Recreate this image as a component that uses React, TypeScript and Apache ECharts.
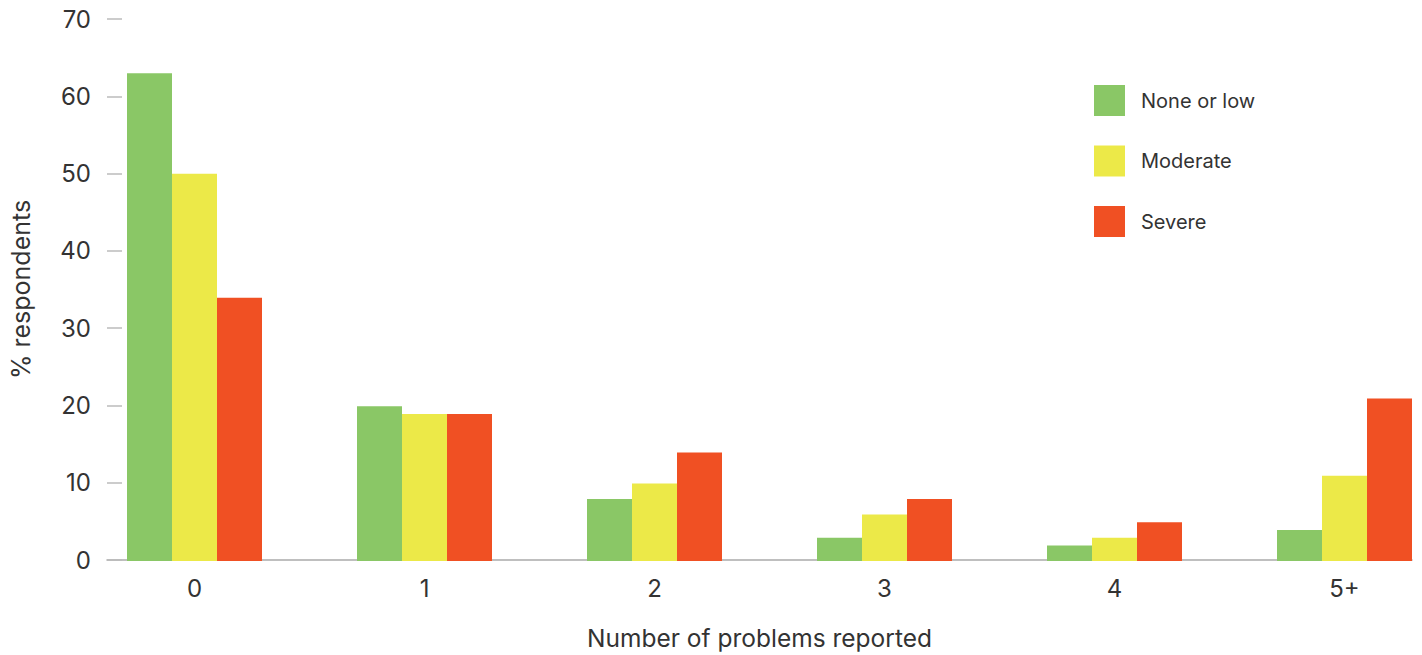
import React, { useEffect, useRef } from "react";
import * as echarts from "echarts";

const categories = ["0", "1", "2", "3", "4", "5+"];
const noneOrLow = [63, 20, 8, 3, 2, 4];
const moderate = [50, 19, 10, 6, 3, 11];
const severe = [34, 19, 14, 8, 5, 21];
const seriesNames = ["None or low", "Moderate", "Severe"];
const colors = ["#8AC766", "#ECE948", "#F05023"];

const FONT = "Inter, 'Liberation Sans', sans-serif";

export default function App() {
  const ref = useRef<HTMLDivElement>(null);
  useEffect(() => {
    if (!ref.current) return;
    const chart = echarts.init(ref.current, null, { renderer: "svg" });
    const dataSets = [noneOrLow, moderate, severe];
    chart.setOption({
      animation: false,
      textStyle: { fontFamily: FONT },
      color: colors,
      legend: {
        orient: "vertical",
        left: 1094,
        top: 85,
        padding: 0,
        itemWidth: 31,
        itemHeight: 31,
        itemGap: 29.5,
        icon: "rect",
        data: seriesNames,
        textStyle: { fontSize: 20, color: "#333", fontFamily: FONT, padding: [0, 0, 0, 11] },
        selectedMode: false,
      },
      grid: [
        { left: 101, right: 10, top: 19, bottom: 94 },
        { left: 194.5, right: 77.5, top: 19, bottom: 94 },
      ],
      xAxis: [
        {
          gridIndex: 0,
          type: "value",
          min: 0,
          max: 1,
          axisLabel: { show: false },
          axisTick: { show: false },
          splitLine: { show: false },
          axisLine: { show: true, lineStyle: { color: "#aaa", width: 1.5 } },
          name: "Number of problems reported",
          nameLocation: "middle",
          nameGap: 65,
          nameTextStyle: { fontSize: 24.5, color: "#333", fontFamily: FONT },
        },
        {
          gridIndex: 1,
          type: "category",
          data: categories,
          boundaryGap: false,
          axisLine: { show: false },
          axisTick: { show: false },
          axisLabel: { fontSize: 24, color: "#333", margin: 15, fontFamily: FONT },
        },
      ],
      yAxis: [
        {
          gridIndex: 0,
          type: "value",
          min: 0,
          max: 70,
          interval: 10,
          axisLine: { show: false },
          axisTick: { show: true, inside: true, length: 15, lineStyle: { color: "#bbb", width: 1.5 } },
          splitLine: { show: false },
          axisLabel: { fontSize: 24, color: "#333", margin: 16, fontFamily: FONT },
          name: "% respondents",
          nameLocation: "middle",
          nameGap: 74,
          nameTextStyle: { fontSize: 25, color: "#333", fontFamily: FONT },
        },
        {
          gridIndex: 1,
          type: "value",
          min: 0,
          max: 70,
          show: false,
        },
      ],
      series: dataSets.map((d, i) => ({
        name: seriesNames[i],
        type: "bar",
        xAxisIndex: 1,
        yAxisIndex: 1,
        data: d,
        barWidth: 45,
        barGap: "0%",
        clip: false,
        itemStyle: { color: colors[i] },
        z: 3,
      })),
    });
    return () => chart.dispose();
  }, []);
  return (
    <div
      ref={ref}
      style={{ position: "fixed", left: 0, top: 0, width: 1422, height: 655, background: "#fff" }}
    />
  );
}
